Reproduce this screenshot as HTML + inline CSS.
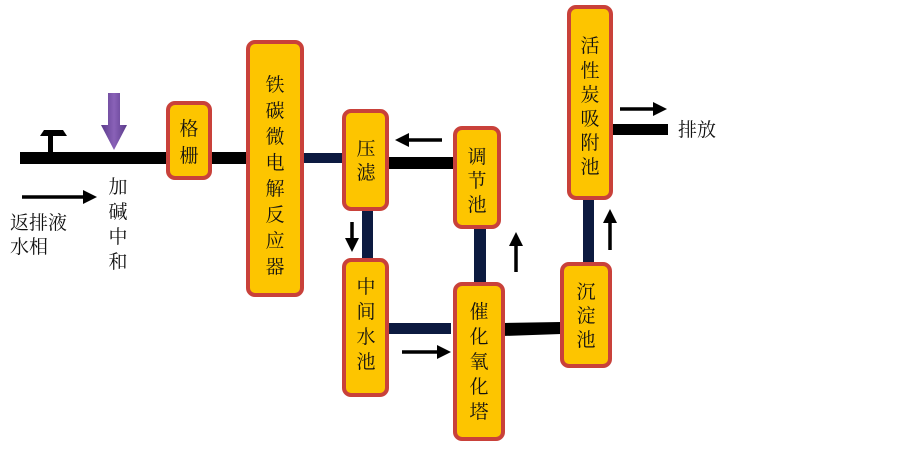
<!DOCTYPE html>
<html><head><meta charset="utf-8"><style>
html,body{margin:0;padding:0;background:#fff;}
text{font-family:"Liberation Serif","Noto Serif CJK SC","Noto Sans CJK SC",serif;font-size:19px;fill:#111;}
</style></head><body>
<svg width="903" height="444" xmlns="http://www.w3.org/2000/svg">
<defs>
<marker id="ah" markerWidth="4" markerHeight="4" refX="2" refY="2" orient="auto" markerUnits="strokeWidth"><path d="M0,0 L4,2 L0,4 z" fill="#000"/></marker>
<linearGradient id="pg" x1="0" x2="1"><stop offset="0" stop-color="#5a3a8a"/><stop offset="0.5" stop-color="#8a62b8"/><stop offset="1" stop-color="#5a3a8a"/></linearGradient>
</defs>
<!-- connectors -->
<rect x="20" y="152" width="228" height="12" fill="#000"/>
<rect x="302" y="153" width="42" height="10" fill="#0c1a40"/>
<rect x="387" y="157" width="68" height="12" fill="#000"/>
<rect x="362" y="209" width="11" height="51" fill="#0c1a40"/>
<rect x="474" y="227" width="12" height="58" fill="#0c1a40"/>
<rect x="387" y="323" width="64" height="11" fill="#0c1a40"/>
<polygon points="503,323 561,322 561,334 503,336" fill="#000"/>
<rect x="583" y="196" width="11" height="68" fill="#0c1a40"/>
<rect x="611" y="124" width="57" height="11" fill="#000"/>
<!-- T symbol -->
<rect x="48" y="135" width="5" height="18" fill="#000"/>
<polygon points="40,136 44,130 63,130 67,136" fill="#000"/>
<!-- purple arrow -->
<polygon points="108,93 120,93 120,125 127,125 114,150 101,125 108,125" fill="url(#pg)"/>
<!-- arrows -->
<line x1="22" y1="197" x2="90" y2="197" stroke="#000" stroke-width="3.5" marker-end="url(#ah)"/>
<line x1="442" y1="140" x2="402" y2="140" stroke="#000" stroke-width="3.5" marker-end="url(#ah)"/>
<line x1="352" y1="222" x2="352" y2="245" stroke="#000" stroke-width="3.5" marker-end="url(#ah)"/>
<line x1="516" y1="272" x2="516" y2="239" stroke="#000" stroke-width="3.5" marker-end="url(#ah)"/>
<line x1="610" y1="250" x2="610" y2="216" stroke="#000" stroke-width="3.5" marker-end="url(#ah)"/>
<line x1="402" y1="352" x2="444" y2="352" stroke="#000" stroke-width="3.5" marker-end="url(#ah)"/>
<line x1="620" y1="109" x2="660" y2="109" stroke="#000" stroke-width="3.5" marker-end="url(#ah)"/>
<!-- boxes -->
<g fill="#fdc500" stroke="#c9413a" stroke-width="4">
<rect x="168" y="103" width="42" height="75" rx="7"/>
<rect x="248" y="42" width="54" height="253" rx="7"/>
<rect x="344" y="111" width="43" height="98" rx="7"/>
<rect x="455" y="128" width="44" height="99" rx="7"/>
<rect x="344" y="260" width="43" height="135" rx="7"/>
<rect x="455" y="284" width="48" height="155" rx="7"/>
<rect x="562" y="264" width="48" height="102" rx="7"/>
<rect x="569" y="7" width="42" height="191" rx="7"/>
</g>
<!-- labels -->
<g text-anchor="middle">
<text x="189" y="135">格</text><text x="189" y="162">栅</text>
<text x="275" y="91">铁</text><text x="275" y="117">碳</text><text x="275" y="143">微</text><text x="275" y="169">电</text><text x="275" y="195">解</text><text x="275" y="221">反</text><text x="275" y="247">应</text><text x="275" y="273">器</text>
<text x="366" y="155">压</text><text x="366" y="179">滤</text>
<text x="477" y="163">调</text><text x="477" y="187">节</text><text x="477" y="211">池</text>
<text x="366" y="293">中</text><text x="366" y="318">间</text><text x="366" y="343">水</text><text x="366" y="368">池</text>
<text x="479" y="318">催</text><text x="479" y="343">化</text><text x="479" y="368">氧</text><text x="479" y="393">化</text><text x="479" y="418">塔</text>
<text x="586" y="298">沉</text><text x="586" y="322">淀</text><text x="586" y="346">池</text>
<text x="590" y="52">活</text><text x="590" y="77">性</text><text x="590" y="101">炭</text><text x="590" y="125">吸</text><text x="590" y="149">附</text><text x="590" y="173">池</text>
<text x="118" y="193">加</text><text x="118" y="218">碱</text><text x="118" y="243">中</text><text x="118" y="268">和</text>
</g>
<text x="10" y="229">返排液</text>
<text x="10" y="253">水相</text>
<text x="678" y="136">排放</text>
</svg>
</body></html>
